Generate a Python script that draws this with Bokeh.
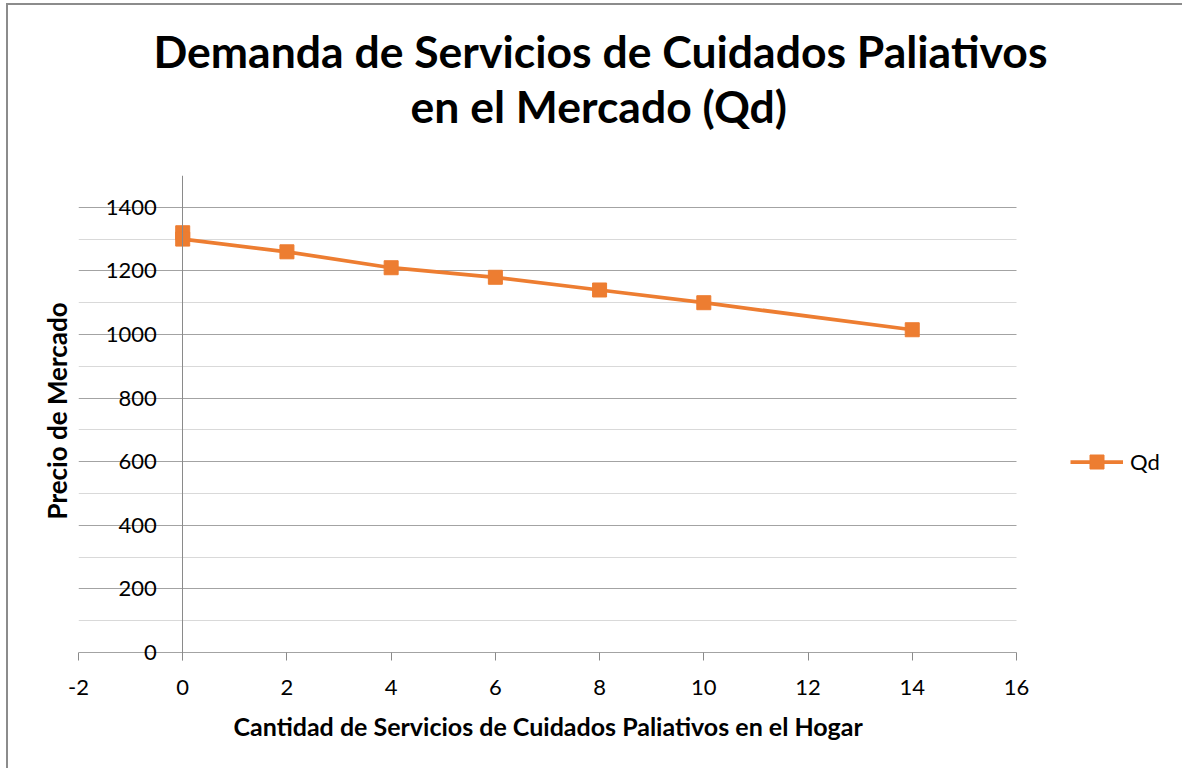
from bokeh.plotting import figure
from bokeh.models import (Range1d, FixedTicker, Legend, LegendItem, ColumnDataSource,
                          Title, PrintfTickFormatter)
from bokeh.embed import file_html
from bokeh.resources import INLINE

# ---- data ----
title_lines = ["Demanda de Servicios de Cuidados Paliativos", "en el Mercado (Qd)"]
x_title = "Cantidad de Servicios de Cuidados Paliativos en el Hogar"
y_title = "Precio de Mercado"
series_name = "Qd"
cantidad = [0, 0, 2, 4, 6, 8, 10, 14]
precio = [1320, 1300, 1260, 1210, 1180, 1140, 1100, 1015]
x_ticks = [-2, 0, 2, 4, 6, 8, 10, 12, 14, 16]
y_ticks = [0, 200, 400, 600, 800, 1000, 1200, 1400]
y_minor_ticks = [100, 300, 500, 700, 900, 1100, 1300, 1500]
x_bounds = (-2, 16)

ORANGE = "#ED7D31"
AXIS_GRAY = "#8a8a8a"
FONT = "Lato"

# The frame runs to the right edge so that the legend (drawn in the frame) is not
# clipped; axis and grid are bounded to x in [-2, 16].
# y range starts a little below 0 so that the "0" label is not clipped;
# the y=0 major grid line plays the role of the x axis line.
p = figure(width=1176, height=765, output_backend="svg", toolbar_location=None,
           x_range=Range1d(-2, 19.2247), y_range=Range1d(-25, 1500),
           min_border_left=70, min_border_right=0, min_border_top=170, min_border_bottom=110)
p.outline_line_color = None
p.background_fill_color = "white"
p.border_fill_color = "white"

src = ColumnDataSource(dict(x=cantidad, y=precio))
ln = p.line("x", "y", source=src, line_color=ORANGE, line_width=3.75)
sc = p.scatter("x", "y", source=src, marker="square", size=14,
               fill_color=ORANGE, line_color=ORANGE)

xt = FixedTicker(ticks=x_ticks)
yt = FixedTicker(ticks=y_ticks, minor_ticks=y_minor_ticks)
p.xaxis.ticker = xt
p.xaxis.bounds = x_bounds
p.yaxis.ticker = yt
p.ygrid.ticker = yt
p.ygrid.cross_bounds = x_bounds
p.xgrid.visible = False
p.ygrid.grid_line_color = "#a3a3a3"
p.ygrid.minor_grid_line_color = "#d9d9d9"

p.yaxis.fixed_location = 0
for ax in (p.xaxis, p.yaxis):
    ax.formatter = PrintfTickFormatter(format="%d")
    ax.axis_line_color = AXIS_GRAY
    ax.major_tick_line_color = AXIS_GRAY
    ax.minor_tick_line_color = None
    ax.major_label_text_font = FONT
    ax.major_label_text_font_size = "22px"
    ax.major_label_text_color = "black"
p.xaxis.axis_line_color = None
p.xaxis.major_tick_out = 0
p.xaxis.major_tick_in = 8
p.xaxis.major_label_standoff = 19
p.yaxis.major_tick_out = 0
p.yaxis.major_tick_in = 0
p.yaxis.major_label_standoff = 22

# x axis title in the bottom panel (below the tick labels)
p.add_layout(Title(text=x_title, align="left", offset=155, vertical_align="middle",
                   standoff=24, text_font=FONT, text_font_style="bold",
                   text_font_size="25px", text_color="black"), "below")

# y axis title in the left panel
p.add_layout(Title(text=y_title, align="left", offset=141, vertical_align="middle",
                   standoff=9, text_font=FONT, text_font_style="bold",
                   text_font_size="26px", text_color="black"), "left")

# chart title (two lines) in the top panel, with a spacer next to the frame
p.add_layout(Title(text=" ", text_font_size="10px", standoff=31), "above")
p.add_layout(Title(text=title_lines[1], align="left", offset=332, standoff=0,
                   text_font=FONT, text_font_style="bold", text_font_size="44.5px",
                   text_color="black"), "above")
p.add_layout(Title(text=title_lines[0], align="left", offset=75, standoff=0,
                   text_font=FONT, text_font_style="bold", text_font_size="44.5px",
                   text_color="black"), "above")

legend = Legend(items=[LegendItem(label=series_name, renderers=[ln, sc])],
                location=(992, 181), padding=0, margin=0, border_line_color=None,
                background_fill_alpha=0, glyph_width=53, glyph_height=35, label_standoff=7,
                label_text_font=FONT, label_text_font_size="22px", label_text_color="black")
p.add_layout(legend)

p.styles = {"margin-left": "6px", "margin-top": "3px",
            "border-left": "2px solid #8c8c8c", "border-top": "2px solid #8c8c8c"}

open("out.html", "w").write(file_html(p, INLINE))
